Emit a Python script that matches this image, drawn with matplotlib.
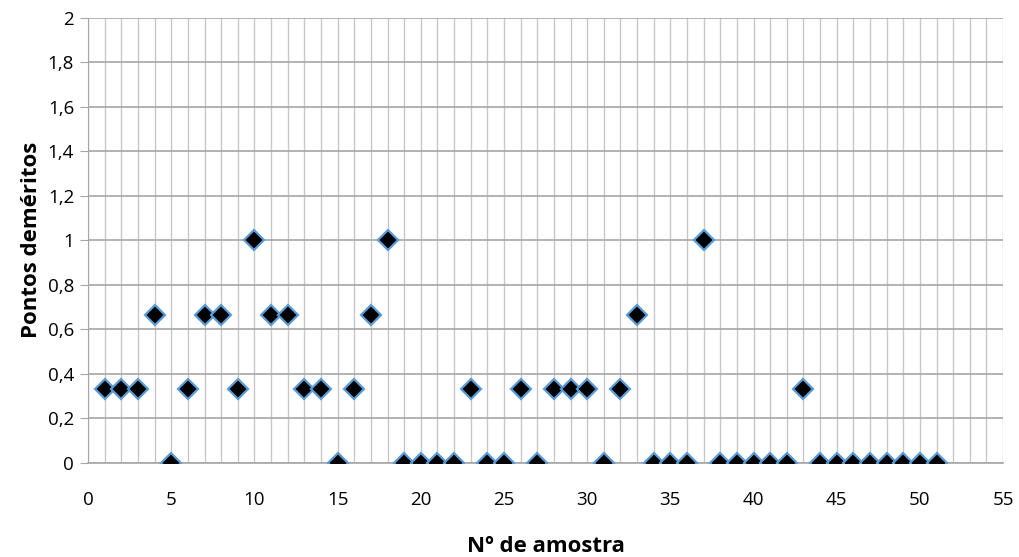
import numpy as np
import matplotlib.pyplot as plt
from matplotlib.ticker import MultipleLocator, FuncFormatter

plt.rcParams['font.family'] = ['Open Sans', 'DejaVu Sans']

# data
amostra = np.arange(1, 52)
demeritos = [1/3, 1/3, 1/3, 2/3, 0, 1/3, 2/3, 2/3, 1/3, 1,
             2/3, 2/3, 1/3, 1/3, 0, 1/3, 2/3, 1, 0, 0,
             0, 0, 1/3, 0, 0, 1/3, 0, 1/3, 1/3, 1/3,
             0, 1/3, 2/3, 0, 0, 0, 1, 0, 0, 0,
             0, 0, 1/3, 0, 0, 0, 0, 0, 0, 0,
             0]

fig = plt.figure(figsize=(10.19, 5.57), dpi=100)
ax = fig.add_axes([0.0864, 0.169, 0.898, 0.799])

ax.plot(amostra, demeritos, linestyle='none', marker='D', markersize=10,
        markerfacecolor='black', markeredgecolor='#5b9bd5', markeredgewidth=1.6,
        zorder=3)

ax.set_xlim(0, 55)
ax.set_ylim(0, 2)
ax.xaxis.set_major_locator(MultipleLocator(5))
ax.xaxis.set_minor_locator(MultipleLocator(1))
ax.yaxis.set_major_locator(MultipleLocator(0.2))
ax.yaxis.set_major_formatter(FuncFormatter(lambda v, p: ('%g' % round(v, 1)).replace('.', ',')))

ax.grid(which='minor', axis='x', color='#c8c8c8', linewidth=1)
ax.grid(which='major', axis='x', color='#c8c8c8', linewidth=1)
ax.grid(which='major', axis='y', color='#a6a6a6', linewidth=1.2)
ax.set_axisbelow(True)

for s in ['top', 'right']:
    ax.spines[s].set_visible(False)
ax.spines['left'].set_color('#a6a6a6')
ax.spines['bottom'].set_color('#a6a6a6')
ax.spines['bottom'].set_linewidth(1.2)

ax.tick_params(axis='y', which='major', length=6, color='#a6a6a6', labelsize=13.5, pad=4)
ax.tick_params(axis='x', which='both', length=0, labelsize=13.5, pad=20)

ax.set_xlabel('Nº de amostra', fontsize=16, fontweight='bold', labelpad=20)
ax.set_ylabel('Pontos deméritos', fontsize=16, fontweight='bold', labelpad=4)

fig.savefig('out.png', dpi=100)
